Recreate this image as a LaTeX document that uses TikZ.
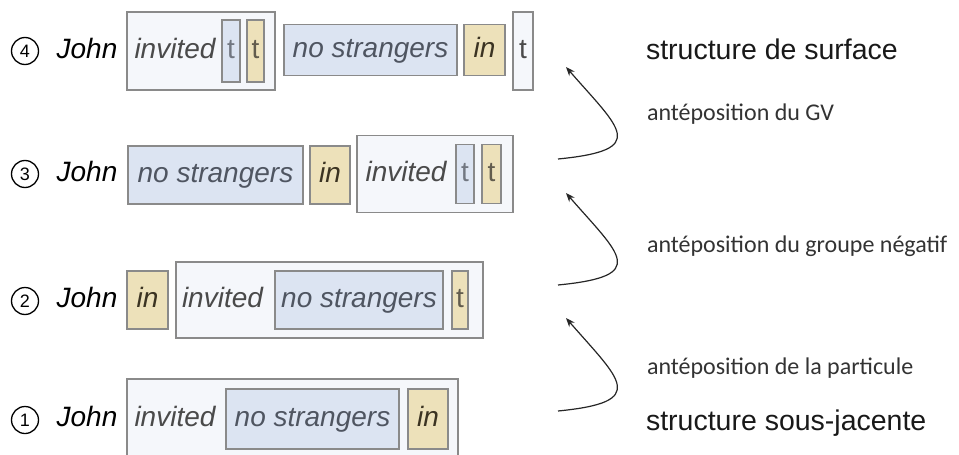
\documentclass[tikz,border=0pt]{standalone}
\usepackage{fontspec}
\setmainfont{Liberation Sans}
\newfontfamily\calibri{Carlito}
\usepackage{xcolor}
\usetikzlibrary{arrows.meta, positioning}

\definecolor{vpfill}{HTML}{F5F7FB}
\definecolor{npfill}{HTML}{DCE4F2}
\definecolor{prtfill}{HTML}{EDE1BA}
\definecolor{boxline}{HTML}{8A8A8A}
\definecolor{vpgray}{HTML}{4A4A4A}
\definecolor{npgray}{HTML}{4F5561}
\definecolor{prttext}{HTML}{3B3322}
\definecolor{notegray}{HTML}{333333}

\begin{document}
\begin{tikzpicture}[
    x=1pt, y=-1pt,
    every node/.style={inner sep=0pt, outer sep=0pt},
    word/.style={font=\fontsize{28}{30}\selectfont\itshape, text height=20pt, text depth=6pt},
    vpbox/.style={draw=boxline, fill=vpfill, line width=1.1pt, minimum height=78pt},
    npbox/.style={word, draw=boxline, fill=npfill, line width=1.1pt, minimum height=58pt, text=npgray},
    prtbox/.style={word, draw=boxline, fill=prtfill, line width=1.1pt, minimum height=58pt, text=prttext},
    trace/.style={font=\fontsize{28}{30}\selectfont, text height=20pt, text depth=6pt, minimum height=59pt},
    numcirc/.style={circle, draw, line width=1.3pt, minimum size=27pt, font=\fontsize{18}{18}\selectfont},
    note/.style={anchor=base west, font=\calibri\fontsize{24}{26}\selectfont, text=notegray},
    level/.style={anchor=base west, font=\fontsize{28.5}{30}\selectfont, text=black!90},
    move/.style={-{Stealth[length=9pt, width=7pt]}, line width=1.2pt, black!85}
]
\useasboundingbox (0,0) rectangle (959,455);

% (4) structure de surface
\node[numcirc] (n4) at (25,51) {4};
\node[word] (john4) at (87,51) {John};
\node[vpbox, minimum width=148pt] (vp4) at (201,51) {};
\node[word, text=vpgray] (inv4) at (175,51) {invited};
\node[trace, draw=boxline, fill=npfill, line width=1.1pt, text=npgray!80, minimum width=18pt, minimum height=62pt] (tb4) at (231,51) {t};
\node[trace, draw=boxline, fill=prtfill, line width=1.1pt, text=prttext!80, minimum width=17pt, minimum height=62pt] (ta4) at (255.5,51) {t};
\node[npbox, minimum width=173pt, minimum height=51pt] (np4) at (370.5,50) {no strangers};
\node[prtbox, minimum width=41pt, minimum height=51pt] (in4) at (484.5,50) {in};
\node[trace, draw=boxline, fill=vpfill, line width=1.1pt, text=vpgray, minimum width=20pt, minimum height=78pt] (tr4) at (523,51) {t};

% (3)
\node[numcirc] (n3) at (25,174) {3};
\node[word] (john3) at (87,174) {John};
\node[npbox, minimum width=175pt] (np3) at (215.5,175) {no strangers};
\node[prtbox, minimum width=40pt] (in3) at (330,175) {in};
\node[vpbox, minimum width=156pt, minimum height=77pt] (vp3) at (435,174) {};
\node[word, text=vpgray] (inv3) at (406,174) {invited};
\node[trace, draw=boxline, fill=npfill, line width=1.1pt, text=npgray!80, minimum width=18pt] (tb3) at (465,174) {t};
\node[trace, draw=boxline, fill=prtfill, line width=1.1pt, text=prttext!80, minimum width=19pt] (ta3) at (491.5,174) {t};

% (2)
\node[numcirc] (n2) at (25,301) {2};
\node[word] (john2) at (87,300) {John};
\node[prtbox, minimum width=41pt] (in2) at (147.5,300) {in};
\node[vpbox, minimum width=307pt, minimum height=76pt] (vp2) at (329.5,300) {};
\node[word, text=vpgray] (inv2) at (222.5,300) {invited};
\node[npbox, minimum width=168pt] (np2) at (359,300) {no strangers};
\node[trace, draw=boxline, fill=prtfill, line width=1.1pt, text=prttext!80, minimum width=16pt, minimum height=58pt] (ta2) at (460,300) {t};

% (1) structure sous-jacente
\node[numcirc] (n1) at (25,420) {1};
\node[word] (john1) at (87,419) {John};
\node[vpbox, minimum width=331pt, minimum height=80pt] (vp1) at (292.5,419) {};
\node[word, text=vpgray] (inv1) at (175,419) {invited};
\node[npbox, minimum width=173pt, minimum height=60pt] (np1) at (312.5,419) {no strangers};
\node[prtbox, minimum width=40pt, minimum height=60pt] (in1) at (428,419) {in};

% labels on the right
\node[level] (surf) at (646,59) {structure de surface};
\node[note] (gv) at (647,120) {antéposition du GV};
\node[note] (neg) at (647,252) {antéposition du groupe négatif};
\node[note] (part) at (647,374) {antéposition de la particule};
\node[level] (deep) at (646,430) {structure sous-jacente};

% movement arrows
\coordinate (s1) at (558,411);
\coordinate (e1) at (566,318);
\coordinate (s2) at (558,285);
\coordinate (e2) at (566,193);
\coordinate (s3) at (558,159);
\coordinate (e3) at (566,67);
\draw[move] (s1) .. controls +(92,-9) and +(54,62) .. (e1);
\draw[move] (s2) .. controls +(92,-9) and +(54,62) .. (e2);
\draw[move] (s3) .. controls +(92,-9) and +(54,62) .. (e3);
\end{tikzpicture}
\end{document}
